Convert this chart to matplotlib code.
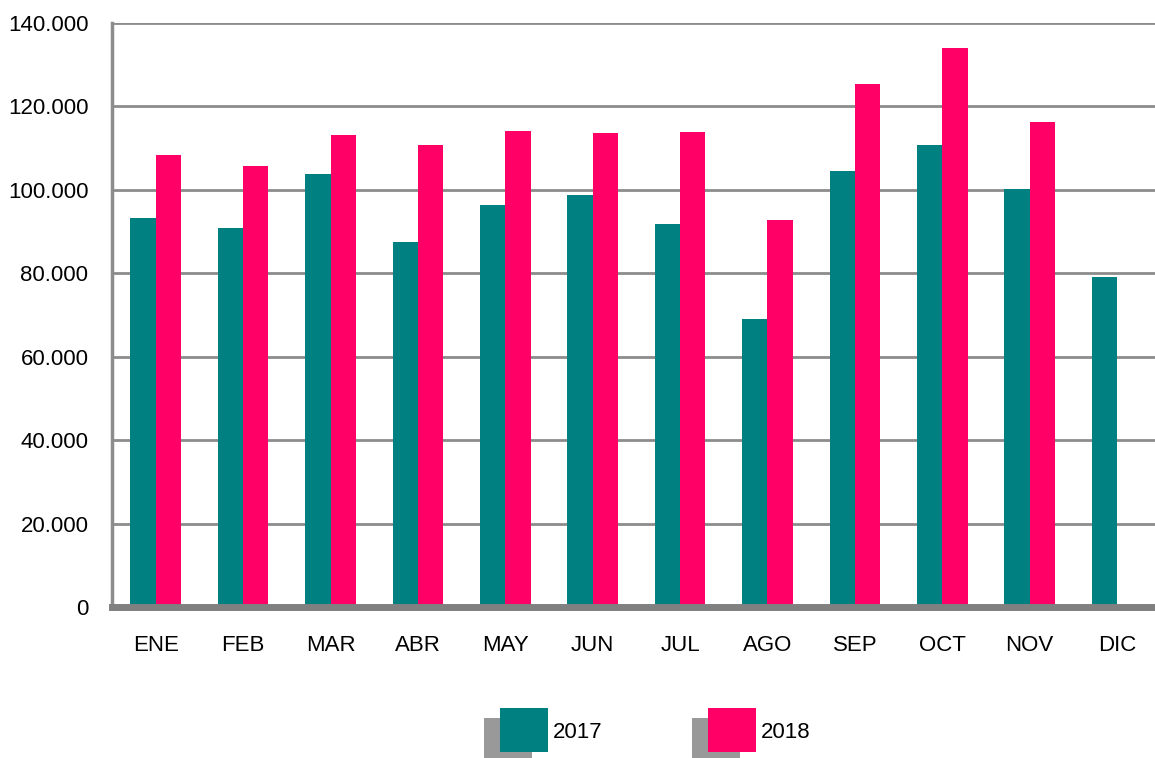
import matplotlib.pyplot as plt
from matplotlib.patches import Rectangle
from matplotlib.ticker import FuncFormatter, MultipleLocator
import numpy as np

# data
months = ['ENE', 'FEB', 'MAR', 'ABR', 'MAY', 'JUN', 'JUL', 'AGO', 'SEP', 'OCT', 'NOV', 'DIC']
v2017 = [93300, 90900, 103800, 87500, 96400, 98800, 91800, 69000, 104500, 110800, 100200, 79100]
v2018 = [108400, 105700, 113200, 110800, 114100, 113600, 113900, 92800, 125400, 134000, 116300, None]
series = ['2017', '2018']
colors = ['#008080', '#FF0066']

plt.rcParams['font.family'] = ['Liberation Sans', 'DejaVu Sans']

fig = plt.figure(figsize=(11.55, 7.58), dpi=100)
ax = fig.add_axes([0.097, 0.199, 0.908, 0.771])

x = np.arange(len(months))
w = 0.29
y18 = [np.nan if v is None else v for v in v2018]
ax.bar(x - w / 2, v2017, w, color=colors[0], zorder=3)
ax.bar(x + w / 2, y18, w, color=colors[1], zorder=3)

ax.set_xlim(-0.5, len(months) - 0.5)
ax.set_ylim(0, 140000)
ax.yaxis.set_major_locator(MultipleLocator(20000))
ax.yaxis.set_major_formatter(FuncFormatter(lambda v, p: f'{int(v):,}'.replace(',', '.')))
ax.set_xticks(x)
ax.set_xticklabels(months)
ax.tick_params(axis='both', length=0, labelsize=16, colors='black')
ax.tick_params(axis='x', pad=20)
ax.tick_params(axis='y', pad=17)

ax.grid(axis='y', color='#8c8c8c', linewidth=2, zorder=0)
for s in ['top', 'right']:
    ax.spines[s].set_visible(False)
ax.spines['left'].set_color('#8c8c8c')
ax.spines['left'].set_linewidth(2.5)
ax.spines['bottom'].set_color('#808080')
ax.spines['bottom'].set_linewidth(5)
ax.spines['bottom'].set_zorder(4)

# legend with shadowed swatches
fig_w, fig_h = 1155, 758
for i, (name, c) in enumerate(zip(series, colors)):
    x0 = 500 + i * 208
    y0 = 758 - 752
    fig.patches.append(Rectangle(((x0 - 16) / fig_w, (y0 - 10) / fig_h), 48 / fig_w, 44 / fig_h,
                                 transform=fig.transFigure, facecolor='#999999', edgecolor='none'))
    fig.patches.append(Rectangle((x0 / fig_w, y0 / fig_h), 48 / fig_w, 44 / fig_h,
                                 transform=fig.transFigure, facecolor=c, edgecolor='none'))
    fig.text((x0 + 53) / fig_w, (y0 + 20) / fig_h, name, fontsize=16, va='center', ha='left')

fig.savefig('out.png', dpi=100)
